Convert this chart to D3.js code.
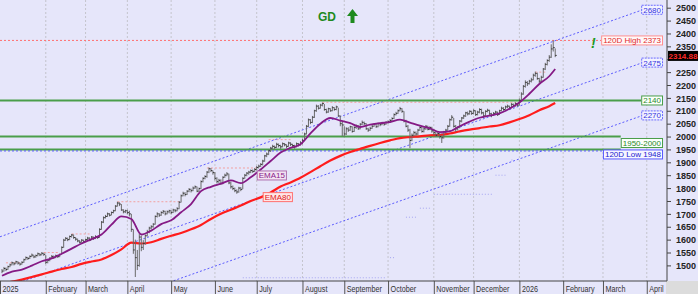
<!DOCTYPE html>
<html>
<head>
<meta charset="utf-8">
<script src="https://cdn.jsdelivr.net/npm/d3@7"></script>
<style>
  body { margin: 0; background: #e6e6fa; }
  svg { display: block; font-family: "Liberation Sans", Arial, sans-serif; }
</style>
</head>
<body>
<div id="container"></div>
<script>
// daily bars (high / low / close), one per weekday from firstBar on
let firstBar = "2025-01-02";
let highs = [
  1486,1494,1492,1499,1507,1515,1513,1518,1516,1511,1516,1526,1535,1533,1539,1546,1541,1542,1550,1548,1552,1549,
  1540,1525,1532,1540,1538,1542,1541,1546,1574,1603,1610,1608,1616,1622,1620,1610,1604,1598,1602,1600,
  1604,1611,1609,1614,1612,1617,1614,1644,1672,1690,1696,1705,1703,1709,1716,1734,1747,1745,1738,1718,1716,
  1716,1712,1700,1640,1600,1560,1625,1615,1598,1620,1638,1650,1656,1664,1694,1706,1703,1710,1715,1712,1713,1716,
  1714,1720,1719,1726,1750,1775,1786,1784,1792,1800,1798,1806,1810,1806,1802,1830,1842,1850,1866,1880,1878,1868,
  1862,1842,1836,1834,1846,1856,1862,1856,1825,1810,1802,1795,1805,1804,1842,1855,1862,1867,1872,1872,1878,
  1886,1891,1897,1910,1929,1938,1950,1960,1968,1965,1976,1973,1968,1977,1975,1970,1980,1978,1972,1968,1977,1975,1982,
  1992,2015,2045,2070,2068,2080,2104,2124,2122,2127,2132,2126,2108,2112,2110,2118,2114,2120,2112,2082,2058,
  2040,2036,2036,2042,2040,2040,2047,2045,2052,2062,2058,2052,2034,2038,2045,2052,2050,2054,2053,2057,2055,2060,
  2062,2068,2075,2090,2096,2105,2115,2110,2098,2065,2045,2030,2012,2022,2020,2030,2040,2038,2035,2045,2042,2040,2038,
  2028,2020,2018,2015,2005,2022,2030,2045,2070,2083,2072,2045,2040,2064,2076,2085,2096,2097,2102,2100,
  2106,2102,2100,2110,2108,2096,2102,2108,2104,2092,2095,2100,2097,2104,2116,2114,2120,2124,2120,2130,2128,2133,2130,
  2148,2172,2200,2218,2215,2220,2228,2244,2252,2248,2228,2236,2266,2286,2300,2316,2358,2373,2342
];
let lows = [
  1470,1476,1478,1483,1493,1500,1500,1505,1503,1499,1503,1510,1520,1521,1525,1532,1528,1530,1535,1536,1539,1537,
  1505,1508,1516,1526,1525,1528,1529,1532,1545,1568,1595,1594,1598,1608,1603,1596,1590,1585,1588,1587,
  1590,1597,1594,1598,1599,1602,1603,1607,1638,1664,1682,1688,1690,1694,1702,1710,1728,1730,1712,1702,1703,
  1698,1690,1630,1545,1455,1482,1495,1555,1560,1580,1612,1625,1640,1646,1658,1686,1688,1692,1700,1694,1698,1702,
  1698,1703,1706,1710,1718,1744,1768,1768,1773,1784,1783,1788,1797,1784,1785,1796,1822,1834,1840,1858,1862,1852,
  1830,1818,1820,1812,1815,1840,1846,1815,1798,1792,1784,1778,1782,1788,1796,1836,1846,1852,1858,1859,1862,
  1868,1876,1882,1888,1902,1920,1928,1940,1950,1950,1955,1958,1952,1958,1962,1955,1960,1963,1958,1953,1958,1962,1965,
  1970,1982,2008,2036,2048,2052,2072,2096,2105,2108,2117,2100,2090,2092,2096,2098,2100,2102,2076,2040,2002,
  2000,2006,2018,2022,2015,2018,2030,2026,2028,2045,2044,2026,2018,2022,2030,2038,2034,2036,2040,2044,2042,2046,
  2050,2054,2060,2068,2082,2088,2098,2092,2055,2036,2018,1955,1982,2000,2004,2006,2022,2015,2016,2026,2024,2025,2015,
  2005,1998,2000,1992,1975,1992,2012,2022,2038,2062,2035,2018,2024,2032,2055,2068,2076,2082,2085,2084,
  2086,2080,2082,2090,2086,2072,2078,2094,2084,2075,2080,2086,2080,2084,2098,2100,2104,2110,2106,2110,2114,2116,2116,
  2120,2140,2162,2190,2196,2202,2210,2218,2232,2220,2208,2212,2228,2258,2276,2290,2305,2330,2308
];
let closes = [
  1478,1488,1484,1495,1502,1510,1506,1514,1509,1505,1512,1522,1530,1527,1535,1540,1533,1538,1545,1541,1547,1543,
  1512,1520,1528,1535,1530,1538,1534,1542,1570,1598,1605,1600,1612,1618,1608,1602,1595,1590,1598,1593,
  1600,1606,1598,1610,1604,1612,1608,1640,1668,1685,1690,1700,1695,1705,1712,1730,1742,1738,1715,1708,1712,
  1705,1700,1640,1560,1530,1500,1610,1570,1585,1615,1630,1645,1650,1660,1690,1700,1695,1705,1710,1700,1708,1712,
  1705,1715,1712,1720,1745,1770,1780,1775,1788,1795,1790,1800,1805,1788,1798,1825,1838,1845,1862,1875,1868,1860,
  1838,1825,1830,1818,1842,1850,1855,1820,1805,1798,1790,1785,1800,1795,1838,1850,1858,1862,1868,1865,1872,
  1880,1885,1892,1905,1925,1932,1945,1955,1962,1958,1970,1965,1960,1972,1968,1962,1975,1970,1965,1960,1972,1968,1975,
  1985,2010,2040,2065,2055,2075,2100,2118,2110,2122,2128,2105,2095,2108,2100,2112,2105,2115,2080,2050,2045,
  2010,2030,2025,2038,2020,2035,2042,2030,2048,2055,2050,2030,2025,2032,2040,2048,2038,2050,2046,2052,2048,2055,
  2058,2062,2070,2085,2090,2100,2108,2098,2060,2040,2025,1985,2005,2015,2010,2025,2035,2020,2030,2040,2028,2035,2022,
  2015,2005,2012,2000,1995,2018,2025,2040,2065,2075,2040,2030,2035,2060,2072,2080,2092,2088,2098,2090,
  2100,2085,2095,2105,2092,2080,2098,2102,2088,2082,2090,2095,2085,2100,2110,2105,2115,2118,2112,2125,2120,2128,2122,
  2140,2165,2195,2210,2205,2215,2220,2238,2245,2225,2215,2230,2262,2280,2295,2308,2340,2345,2314.88
];

// moving averages read every 5th bar, plus the last bar
let emaStep = 5;
let ema15 = [1460,1476,1484,1499,1516,1527,1545,1565,1585,1602,1620,1658,1690,1680,1620,1635,1660,1675,1706,1738,
  1788,1805,1817,1830,1819,1842,1872,1905,1938,1956,1970,2012,2050,2072,2062,2052,2037,2046,2052,2056,
  2066,2054,2042,2032,2017,2020,2040,2058,2073,2081,2090,2108,2132,2166,2204,2234,2262];
let ema80 = [1428,1437,1445,1455,1465,1476,1486,1494,1506,1515,1523,1540,1562,1588,1585,1590,1603,1615,1626,1640,
  1657,1680,1700,1716,1732,1750,1764,1783,1806,1822,1840,1862,1885,1907,1925,1940,1952,1964,1975,1985,
  1994,1998,2001,2005,2006,2012,2020,2027,2033,2039,2044,2055,2068,2083,2102,2118,2130];

// trend channel
let channelDates = ["2025-01-01", "2026-03-30"];
let channelStart = [1611, 1407, 1203];
let channelEnd = [2492, 2287, 2082];
let channelLabels = ["2680", "2475", "2270"];

// horizontal levels
let highLevel = 2373, lowLevel = 1948;
let supportLevel = 2140;
let zoneLevels = [2000, 1950];

// small dotted resistance marks after each swing high
let resistStart = ["2025-01-06","2025-01-31","2025-02-20","2025-03-25","2025-05-27","2025-07-09","2025-08-15","2026-01-13"];
let resistEnd = ["2025-01-15","2025-02-12","2025-03-05","2025-05-07","2025-07-01","2025-07-24","2025-12-31","2026-01-20"];
let resistValue = [1510,1550,1622,1747,1878,1988,2133,2250];

// faint trailing stop steps
let stopStart = ["2025-06-20","2025-10-02","2025-10-14","2025-10-23","2025-11-03","2025-12-16","2025-12-26","2025-12-31"];
let stopEnd = ["2025-09-30","2025-10-06","2025-10-21","2025-10-30","2025-12-15","2025-12-23","2025-12-29","2026-01-14"];
let stopValue = [1452,1530,1687,1722,1776,1850,1909,1944];

let w = 698, h = 294;
let plotW = 666, plotH = 281;

let svg = d3.select("#container").append("svg")
  .attr("width", w).attr("height", h);

svg.append("rect").attr("width", w).attr("height", h).attr("fill", "#e6e6fa");
svg.append("rect").attr("x", plotW).attr("y", plotH)
  .attr("width", w - plotW).attr("height", h - plotH).attr("fill", "#dcdcdc");

let fmt = d3.timeFormat("%Y-%m-%d");
let days = d3.timeDay.range(new Date(2025, 0, 1), new Date(2026, 3, 15))
  .filter(d => d.getDay() > 0 && d.getDay() < 6);
let dayKeys = days.map(fmt);

let x = d3.scalePoint().domain(dayKeys).range([0, (dayKeys.length - 1) * 1.99]);
let y = d3.scaleLinear().domain([1500, 2500]).range([265.4, 7.7]);

let i0 = dayKeys.indexOf(firstBar);
let barKeys = dayKeys.slice(i0, i0 + closes.length);

let monthStarts = days.filter((d, i) => i == 0 || d.getMonth() != days[i - 1].getMonth());
let mondays = days.filter(d => d.getDay() == 1);

// clip for plot
svg.append("defs").append("clipPath").attr("id", "plotclip")
  .append("rect").attr("width", plotW).attr("height", plotH);
let plot = svg.append("g").attr("clip-path", "url(#plotclip)");

// month grid
plot.selectAll(".grid").data(monthStarts.slice(1)).enter()
  .append("line")
    .attr("x1", d => x(fmt(d))).attr("x2", d => x(fmt(d)))
    .attr("y1", 0).attr("y2", plotH)
    .style("stroke", "#c4c4cc").style("stroke-dasharray", "2,2");

// trailing stop
plot.selectAll(".stop").data(stopValue).enter()
  .append("line")
    .attr("x1", (d, i) => x(stopStart[i])).attr("x2", (d, i) => x(stopEnd[i]))
    .attr("y1", d => y(d)).attr("y2", d => y(d))
    .style("stroke", "#a4a4f0").style("stroke-dasharray", "1,2");

// resistance marks
plot.selectAll(".resist").data(resistValue).enter()
  .append("line")
    .attr("x1", (d, i) => x(resistStart[i])).attr("x2", (d, i) => x(resistEnd[i]))
    .attr("y1", d => y(d)).attr("y2", d => y(d))
    .style("stroke", "#f2a0a0").style("stroke-dasharray", "2,2");

// tag helper
function drawTag(g, text, px, py, anchor, st) {
  let t = g.append("g");
  let label = t.append("text").text(text)
    .attr("y", py + 3).style("font-size", "8px").style("fill", st.text)
    .style("font-weight", st.bold ? "bold" : "normal");
  let tw = label.node().getComputedTextLength();
  let left = anchor == "end" ? px - tw - 4 : px;
  label.attr("x", left + 2);
  t.insert("rect", "text")
    .attr("x", left + 0.5).attr("y", py - 4.5)
    .attr("width", tw + 3).attr("height", 9)
    .attr("fill", st.fill).attr("stroke", st.stroke)
    .style("stroke-dasharray", st.dash || null);
  return left;
}

let tagRight = 663;
let channelStyle = {fill: "#f2f2ff", stroke: "#6a6aff", dash: "2,1", text: "#3434e0"};
let greenStyle = {fill: "#fbfffb", stroke: "#4a9e4a", text: "#2a8a2a"};
let highStyle = {fill: "#fff8f8", stroke: "#ff9090", text: "#e02a2a"};
let lowStyle = {fill: "#f7f7ff", stroke: "#5a5aff", text: "#2020d0"};

let labels = svg.append("g");

// channel lines
channelStart.forEach((v, i) => {
  plot.append("line")
    .attr("x1", x(channelDates[0])).attr("y1", y(v))
    .attr("x2", x(channelDates[1])).attr("y2", y(channelEnd[i]))
    .style("stroke", "#5c5cff").style("stroke-dasharray", "2,2");
});

// horizontal levels (lines end at their tags)
let highLeft = drawTag(labels, "120D High " + highLevel, tagRight, y(highLevel), "end", highStyle);
plot.append("line").attr("x1", 0).attr("x2", highLeft)
  .attr("y1", y(highLevel)).attr("y2", y(highLevel))
  .style("stroke", "#ff7070").style("stroke-dasharray", "2,2");

let supLeft = drawTag(labels, String(supportLevel), tagRight, y(supportLevel), "end", greenStyle);
plot.append("line").attr("x1", 0).attr("x2", supLeft)
  .attr("y1", y(supportLevel)).attr("y2", y(supportLevel))
  .style("stroke", "#4a9e4a").style("stroke-width", 2);

let zoneLeft = drawTag(labels, zoneLevels[1] + "-" + zoneLevels[0], tagRight,
  (y(zoneLevels[0]) + y(zoneLevels[1])) / 2, "end", greenStyle);
zoneLevels.forEach(v => {
  plot.append("line").attr("x1", 0).attr("x2", zoneLeft)
    .attr("y1", y(v)).attr("y2", y(v))
    .style("stroke", "#4a9e4a").style("stroke-width", 2);
});

let lowLeft = drawTag(labels, "120D Low " + lowLevel, tagRight, y(lowLevel) + 4.5, "end", lowStyle);
plot.append("line").attr("x1", 0).attr("x2", lowLeft)
  .attr("y1", y(lowLevel) + 1).attr("y2", y(lowLevel) + 1)
  .style("stroke", "#5c5cff").style("stroke-dasharray", "2,2");

channelLabels.forEach((t, i) => {
  drawTag(labels, t, tagRight, y(channelEnd[i]), "end", channelStyle);
});

// moving averages
function emaPoints(vals) {
  return vals.map((v, i) => [barKeys[Math.min(i * emaStep, barKeys.length - 1)], v]);
}
let emaLine = d3.line().x(d => x(d[0])).y(d => y(d[1])).curve(d3.curveMonotoneX);

plot.append("path").datum(emaPoints(ema80)).attr("d", emaLine)
  .attr("fill", "none").style("stroke", "#ff1c1c").style("stroke-width", 2.2);

// bars
let bars = plot.selectAll(".bar").data(closes).enter().append("g").attr("class", "bar");
bars.append("line")
  .attr("x1", (d, i) => x(barKeys[i])).attr("x2", (d, i) => x(barKeys[i]))
  .attr("y1", (d, i) => y(highs[i])).attr("y2", (d, i) => y(lows[i]))
  .style("stroke", "#6a6a6a").style("stroke-width", 1);
bars.append("line")
  .attr("x1", (d, i) => x(barKeys[i])).attr("x2", (d, i) => x(barKeys[i]) + 1.5)
  .attr("y1", d => y(d)).attr("y2", d => y(d))
  .style("stroke", "#303030").style("stroke-width", 1);

plot.append("path").datum(emaPoints(ema15)).attr("d", emaLine)
  .attr("fill", "none").style("stroke", "#851a85").style("stroke-width", 1.8);

drawTag(labels, "EMA15", x("2025-07-01"), y(1849), "start",
  {fill: "#f2e4f2", stroke: "#b070b0", text: "#8a1a8a"});
drawTag(labels, "EMA80", x("2025-07-04"), y(1765), "start",
  {fill: "#ffe6e6", stroke: "#ff7070", text: "#e01a1a"});

// signal text
svg.append("text").text("GD").attr("x", 318).attr("y", 21)
  .style("font-size", "12px").style("font-weight", "bold").style("fill", "#1e8a1e");
svg.append("path")
  .attr("d", "M352.5,9 L358,16 L354.5,16 L354.5,23 L350.5,23 L350.5,16 L347,16 Z")
  .attr("fill", "#1e8a1e");
svg.append("text").text("!").attr("x", 591).attr("y", 48)
  .style("font-size", "14px").style("font-weight", "bold").style("font-style", "italic")
  .style("fill", "#1e9a1e");

// right axis (the 2300 label sits under the last-price tag)
let lastClose = closes[closes.length - 1];
let labelTicks = d3.range(1500, 2501, 50).filter(v => Math.abs(y(v) - y(lastClose)) > 6);
let yAxisG = svg.append("g").attr("transform", "translate(" + (plotW + 1) + ",0)");
yAxisG.call(d3.axisRight(y).tickValues(d3.range(1440, 2531, 10)).tickSize(2).tickFormat(""));
yAxisG.call(d3.axisRight(y).tickValues(d3.range(1500, 2501, 50)).tickSize(4).tickFormat(""));
let yLab = svg.append("g").attr("transform", "translate(" + (plotW + 1) + ",0)");
yLab.call(d3.axisRight(y).tickValues(labelTicks).tickSize(0).tickPadding(9)
  .tickFormat(d3.format("d")).tickSizeOuter(0));
yAxisG.selectAll(".domain").remove();
yLab.selectAll(".domain").remove();
yAxisG.selectAll("line").attr("stroke", "#444");
yLab.selectAll("text").style("font-size", "9px").style("font-weight", "bold")
  .style("fill", "#222").style("font-family", "'Liberation Sans', Arial, sans-serif")
  .attr("dy", "0.35em");
svg.append("line").attr("x1", plotW + 1).attr("x2", plotW + 1).attr("y1", 0).attr("y2", plotH)
  .style("stroke", "#444");

// last price tag
let tagY = y(lastClose);
svg.append("rect").attr("x", plotW + 2).attr("y", tagY - 4.5).attr("width", w - plotW - 2).attr("height", 10)
  .attr("fill", "#000");
svg.append("text").text(lastClose.toFixed(2)).attr("x", plotW + 2.5).attr("y", tagY + 3.5)
  .style("font-size", "8px").style("font-weight", "bold").style("fill", "#ff2a2a");

// bottom axis
let monthFmt = d => d.getMonth() == 0 ? d3.timeFormat("%Y")(d) : d3.timeFormat("%B")(d);
let xAxisG = svg.append("g").attr("transform", "translate(0," + plotH + ")");
xAxisG.call(d3.axisBottom(x).tickValues(mondays.map(fmt)).tickSize(3).tickFormat(""));
xAxisG.call(d3.axisBottom(x).tickValues(monthStarts.map(fmt)).tickSize(h - plotH)
  .tickFormat((k, i) => monthFmt(monthStarts[i])).tickSizeOuter(0));
xAxisG.selectAll(".domain").remove();
xAxisG.selectAll("line").attr("stroke", "#555");
xAxisG.selectAll("text")
  .attr("text-anchor", "start").attr("x", 2).attr("y", 10.5).attr("dy", null)
  .style("font-size", "9px").style("fill", "#333")
  .each(function() {
    // squeeze to a narrow face like the original
    let tw = this.getComputedTextLength();
    d3.select(this).attr("textLength", tw * 0.8).attr("lengthAdjust", "spacingAndGlyphs");
  });
svg.append("line").attr("x1", 0).attr("x2", plotW + 1).attr("y1", plotH).attr("y2", plotH)
  .style("stroke", "#444");
</script>
</body>
</html>
